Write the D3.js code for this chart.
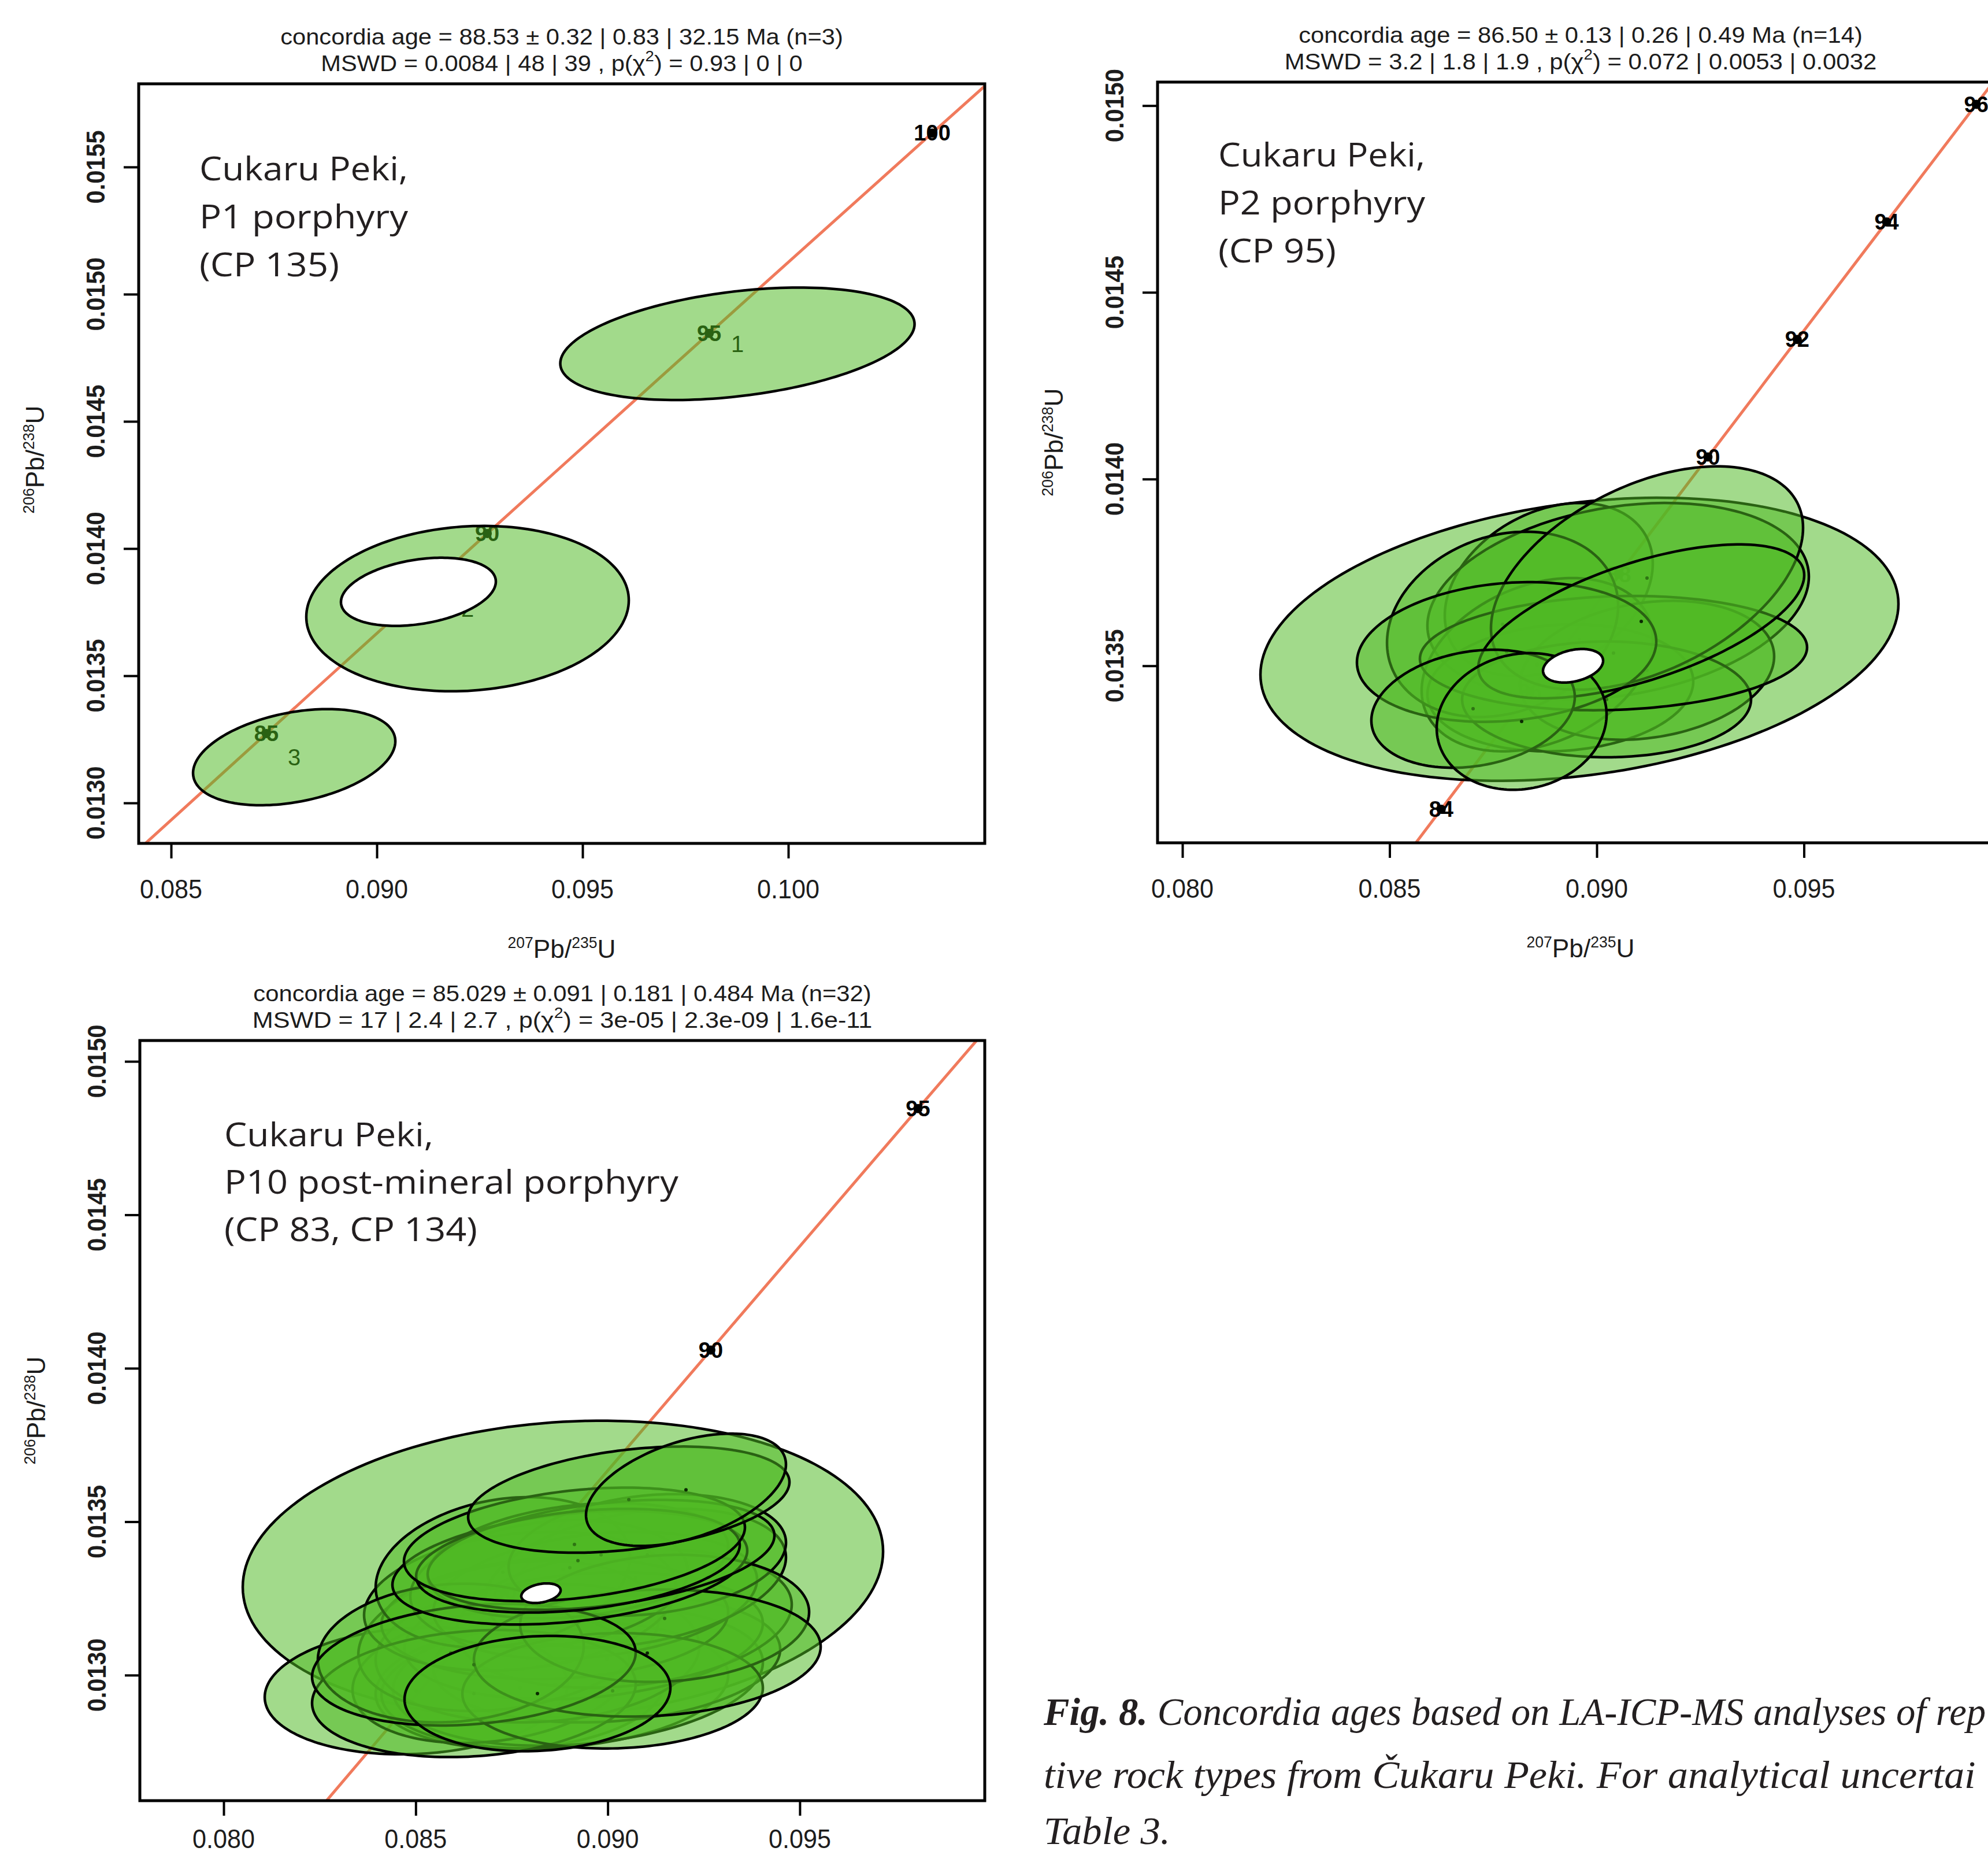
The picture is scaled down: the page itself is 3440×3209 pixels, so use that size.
<!DOCTYPE html>
<html><head><meta charset="utf-8">
<script src="https://cdn.jsdelivr.net/npm/d3@7"></script>
<style>body{margin:0;background:#fff}</style>
</head><body>
<svg id="c" width="3440" height="3209" xmlns="http://www.w3.org/2000/svg"></svg>
<script>
// ---------------- DATA ----------------
// Concordia curve (207Pb/235U, 206Pb/238U) at ages in Ma
const concAges = [78, 80, 82, 84, 85, 86, 88, 90, 92, 94, 95, 96, 100, 102];
const concX = [0.0798458, 0.0819749, 0.0841082, 0.0862456, 0.0873159, 0.0883873, 0.0905332, 0.0926833, 0.0948377, 0.0969964, 0.0980773, 0.0991592, 0.1034978, 0.1056735];
const concY = [0.0121733, 0.0124873, 0.0128015, 0.0131158, 0.0132729, 0.0134301, 0.0137446, 0.0140592, 0.0143738, 0.0146886, 0.0148460, 0.0150034, 0.0156334, 0.0159486];

// Panel 1 (CP 135)
const p1TickAges = [85, 90, 95, 100];
const p1XTicks = [0.085, 0.090, 0.095, 0.100];
const p1YTicks = [0.0130, 0.0135, 0.0140, 0.0145, 0.0150, 0.0155];
const p1X   = [0.098764, 0.092205, 0.087992];
const p1Y   = [0.014805, 0.013764, 0.013180];
const p1SX  = [0.004305, 0.003919, 0.002458];
const p1SY  = [0.000221, 0.000325, 0.000189];
const p1Rho = [0.35, 0.10, 0.33];
const p1Labels = ["1", "2", "3"];
const p1Mean = [0.091011, 0.013830, 0.001882, 0.000134, 0.30];

// Panel 2 (CP 95)
const p2TickAges = [84, 86, 88, 90, 92, 94, 96];
const p2XTicks = [0.080, 0.085, 0.090, 0.095];
const p2YTicks = [0.0135, 0.0140, 0.0145, 0.0150];
const p2X   = [0.089582, 0.088842, 0.090516, 0.089121, 0.088563, 0.091213, 0.087727, 0.090237, 0.090404, 0.091213, 0.087824, 0.091074, 0.087015, 0.088187];
const p2Y   = [0.013571, 0.013704, 0.013673, 0.013441, 0.013503, 0.013488, 0.013611, 0.013410, 0.013534, 0.013735, 0.013537, 0.013619, 0.013385, 0.013351];
const p2SX  = [0.007699, 0.002510, 0.004603, 0.003208, 0.002789, 0.003068, 0.002789, 0.003487, 0.004672, 0.003766, 0.003612, 0.003933, 0.002455, 0.002050];
const p2SY  = [0.000379, 0.000232, 0.000263, 0.000170, 0.000232, 0.000186, 0.000248, 0.000155, 0.000153, 0.000299, 0.000187, 0.000206, 0.000158, 0.000183];
const p2Rho = [0.25, 0.30, 0.25, 0.10, 0.30, 0.20, 0.20, 0.00, 0.10, 0.45, 0.15, 0.60, 0.20, 0.10];
const p2Mean = [0.089428, 0.013500, 0.000725, 0.0000449, 0.30];

// Panel 3 (CP 83, CP 134)
const p3TickAges = [85, 90, 95];
const p3XTicks = [0.080, 0.085, 0.090, 0.095];
const p3YTicks = [0.0130, 0.0135, 0.0140, 0.0145, 0.0150];
const p3X   = [0.088833, 0.085011, 0.087719, 0.088622, 0.089224, 0.086967, 0.089976, 0.088170, 0.089374, 0.087418, 0.090427, 0.088622, 0.087719, 0.089675, 0.090728, 0.088471, 0.087268, 0.089224, 0.091030, 0.086515, 0.090127, 0.085913, 0.091481, 0.091030, 0.086515, 0.088170, 0.089013, 0.089826, 0.089224, 0.089133, 0.090548, 0.092037];
const p3Y   = [0.013345, 0.012949, 0.012959, 0.012968, 0.012996, 0.012996, 0.013053, 0.013072, 0.013128, 0.013128, 0.013185, 0.013185, 0.013241, 0.013260, 0.013316, 0.013298, 0.013335, 0.013373, 0.013392, 0.012940, 0.012949, 0.013072, 0.013185, 0.013072, 0.013034, 0.012940, 0.013350, 0.013392, 0.013373, 0.013426, 0.013572, 0.013604];
const p3SX  = [0.008336, 0.003942, 0.003762, 0.004514, 0.004815, 0.003611, 0.004514, 0.004213, 0.004664, 0.003912, 0.004364, 0.004514, 0.004063, 0.004213, 0.003912, 0.003611, 0.003310, 0.003912, 0.003611, 0.004213, 0.003912, 0.003461, 0.003762, 0.004514, 0.004213, 0.003461, 0.004619, 0.004514, 0.004213, 0.004439, 0.004183, 0.002603];
const p3SY  = [0.000484, 0.000207, 0.000198, 0.000207, 0.000226, 0.000217, 0.000207, 0.000226, 0.000207, 0.000245, 0.000226, 0.000198, 0.000226, 0.000207, 0.000226, 0.000207, 0.000245, 0.000188, 0.000198, 0.000207, 0.000188, 0.000226, 0.000207, 0.000207, 0.000198, 0.000188, 0.000185, 0.000179, 0.000169, 0.000185, 0.000173, 0.000183];
const p3Rho = [0.12, 0.10, 0.10, 0.15, 0.20, 0.20, 0.15, 0.10, 0.20, 0.25, 0.20, 0.10, 0.20, 0.25, 0.30, 0.20, 0.20, 0.25, 0.20, 0.15, 0.05, 0.10, 0.10, 0.10, 0.20, 0.10, 0.30, 0.35, 0.30, 0.30, 0.33, 0.45];
const p3Mean = [0.088261, 0.013267, 0.000512, 0.000032, 0.30];

// Texts
const p1Title = ["concordia age = 88.53 \u00b1 0.32 | 0.83 | 32.15 Ma (n=3)", "MSWD = 0.0084 | 48 | 39 , p(\u03c7", ") = 0.93 | 0 | 0"];
const p2Title = ["concordia age = 86.50 \u00b1 0.13 | 0.26 | 0.49 Ma (n=14)", "MSWD = 3.2 | 1.8 | 1.9 , p(\u03c7", ") = 0.072 | 0.0053 | 0.0032"];
const p3Title = ["concordia age = 85.029 \u00b1 0.091 | 0.181 | 0.484 Ma (n=32)", "MSWD = 17 | 2.4 | 2.7 , p(\u03c7", ") = 3e-05 | 2.3e-09 | 1.6e-11"];
const p1Note = ["Cukaru Peki,", "P1 porphyry", "(CP 135)"];
const p2Note = ["Cukaru Peki,", "P2 porphyry", "(CP 95)"];
const p3Note = ["Cukaru Peki,", "P10 post-mineral porphyry", "(CP 83, CP 134)"];
const caption = ["Fig. 8.", " Concordia ages based on LA-ICP-MS analyses of rep", "tive rock types from \u010cukaru Peki. For analytical uncertai", "Table 3."];

// ---------------- LAYOUT / STYLE ----------------
const FILL = "rgb(80,185,35)", FILL_OP = 0.53, LINE_RED = "#f07a5c", TXT = "#1c1c1c";
const panels = [
  {id: "p1", box: {l: 240, r: 1704, t: 145, b: 1459}, xDom: [0.084213, 0.104775], yDom: [0.012841, 0.015827],
   xT: p1XTicks, yT: p1YTicks, ages: p1TickAges, X: p1X, Y: p1Y, SX: p1SX, SY: p1SY, R: p1Rho, labels: p1Labels, mean: p1Mean,
   title: p1Title, titleW: [974, 834], note: p1Note, noteX: 345, noteY: [312, 395, 478], noteW: [361, 361, 242], xlab: true, ylabY: 795},
  {id: "p2", box: {l: 2003, r: 3467, t: 142, b: 1458}, xDom: [0.079400, 0.099819], yDom: [0.013026, 0.015063],
   xT: p2XTicks, yT: p2YTicks, ages: p2TickAges, X: p2X, Y: p2Y, SX: p2SX, SY: p2SY, R: p2Rho, labels: null, mean: p2Mean,
   title: p2Title, titleW: [976, 1025], note: p2Note, noteX: 2108, noteY: [288, 371, 454], noteW: [358, 358, 204], xlab: true, ylabY: 765},
  {id: "p3", box: {l: 242, r: 1704, t: 1800, b: 3115}, xDom: [0.077818, 0.099816], yDom: [0.012591, 0.015068],
   xT: p3XTicks, yT: p3YTicks, ages: p3TickAges, X: p3X, Y: p3Y, SX: p3SX, SY: p3SY, R: p3Rho, labels: null, mean: p3Mean,
   title: p3Title, titleW: [1070, 1073], note: p3Note, noteX: 388, noteY: [1983, 2065, 2147], noteW: [362, 786, 438], xlab: false, ylabY: 2440}
];

const svg = d3.select("#c");
svg.append("rect").attr("width", 3440).attr("height", 3209).attr("fill", "#fff");
const defs = svg.append("defs");

function fitted(parent, x, y, w, rot, build) {
  const g = parent.append("g");
  const t = g.append("text").attr("x", 0).attr("y", 0);
  build(t);
  const len = t.node().getComputedTextLength();
  const s = w ? w / len : 1;
  g.attr("transform", `translate(${x},${y}) rotate(${rot}) scale(${s},1)`);
  return g;
}

function ellipsePts(cx, cy, ex, ey, rho) {
  const r2 = Math.sqrt(1 - rho * rho);
  return d3.range(0, 360, 2).map(d => {
    const t = d * Math.PI / 180;
    return [cx + ex * Math.cos(t), cy + ey * (rho * Math.cos(t) + r2 * Math.sin(t))];
  });
}

panels.forEach(p => {
  const b = p.box;
  const x = d3.scaleLinear().domain(p.xDom).range([b.l, b.r]);
  const y = d3.scaleLinear().domain(p.yDom).range([b.b, b.t]);
  const cx = (b.l + b.r) / 2;
  defs.append("clipPath").attr("id", "clip-" + p.id).append("rect")
    .attr("x", b.l).attr("y", b.t).attr("width", b.r - b.l).attr("height", b.b - b.t);
  const g = svg.append("g");
  const plot = g.append("g").attr("clip-path", `url(#clip-${p.id})`);

  // concordia line
  const cpts = concAges.map((a, i) => [concX[i], concY[i]]);
  plot.append("path").datum(cpts)
    .attr("d", d3.line().x(d => x(d[0])).y(d => y(d[1])))
    .attr("fill", "none").attr("stroke", LINE_RED).attr("stroke-width", 5);
  // concordia age ticks
  p.ages.forEach(a => {
    const i = concAges.indexOf(a);
    const px = x(concX[i]), py = y(concY[i]);
    plot.append("circle").attr("cx", px).attr("cy", py).attr("r", 8).attr("fill", "#000");
    plot.append("text").attr("x", px).attr("y", py + 13).attr("text-anchor", "middle")
      .attr("font-family", "Liberation Sans Narrow, Liberation Sans, Arial").attr("font-weight", "bold")
      .attr("font-size", 38).attr("fill", "#000").text(a);
  });
  // aliquot numbers (drawn underneath the ellipse fills)
  if (p.labels) {
    p.labels.forEach((lab, i) => {
      plot.append("text").attr("x", x(p.X[i])).attr("y", y(p.Y[i]) + 14).attr("text-anchor", "middle")
        .attr("font-family", "Liberation Sans Narrow, Liberation Sans, Arial")
        .attr("font-size", 40).attr("fill", "#000").text(lab);
    });
  }
  const line = d3.line().x(d => x(d[0])).y(d => y(d[1])).curve(d3.curveLinearClosed);
  p.X.forEach((_, i) => {
    plot.append("path").datum(ellipsePts(p.X[i], p.Y[i], p.SX[i], p.SY[i], p.R[i]))
      .attr("d", line).attr("fill", FILL).attr("fill-opacity", FILL_OP)
      .attr("stroke", "#000").attr("stroke-width", 4.5);
    if (!p.labels) {
      plot.append("circle").attr("cx", x(p.X[i])).attr("cy", y(p.Y[i])).attr("r", 3).attr("fill", "#0a2a00");
    }
  });
  // concordia age ellipse
  const m = p.mean;
  plot.append("path").datum(ellipsePts(m[0], m[1], m[2], m[3], m[4]))
    .attr("d", line).attr("fill", "#fff").attr("stroke", "#000").attr("stroke-width", 4.5);

  // box
  g.append("rect").attr("x", b.l).attr("y", b.t).attr("width", b.r - b.l).attr("height", b.b - b.t)
    .attr("fill", "none").attr("stroke", "#000").attr("stroke-width", 5);

  // axes ticks
  const ax = g.append("g").attr("transform", `translate(0,${b.b})`)
    .call(d3.axisBottom(x).tickValues(p.xT).tickSize(26).tickFormat(""));
  const ay = g.append("g").attr("transform", `translate(${b.l},0)`)
    .call(d3.axisLeft(y).tickValues(p.yT).tickSize(26).tickFormat(""));
  [ax, ay].forEach(a => { a.select(".domain").remove(); a.selectAll("line").attr("stroke", "#000").attr("stroke-width", 4); });

  // tick labels
  const xLabY = Math.min(b.b + 95, 3197);
  p.xT.forEach(v => {
    fitted(g, x(v), xLabY, 108, 0, t => t.attr("text-anchor", "middle")
      .attr("font-family", "Liberation Sans, Arial").attr("font-size", 46).attr("fill", TXT).text(d3.format(".3f")(v)));
  });
  p.yT.forEach(v => {
    fitted(g, b.l - 59, y(v), 127, -90, t => t.attr("text-anchor", "middle")
      .attr("font-family", "Liberation Sans, Arial").attr("font-weight", "bold").attr("font-size", 44).attr("fill", TXT)
      .text(d3.format(".4f")(v)));
  });

  // axis titles
  const isoLabel = (t, a, b2) => {
    t.attr("text-anchor", "middle").attr("font-family", "Liberation Sans, Arial").attr("fill", TXT);
    t.append("tspan").attr("font-size", 27).attr("dy", -17).text(a);
    t.append("tspan").attr("font-size", 45).attr("dy", 17).text("Pb/");
    t.append("tspan").attr("font-size", 27).attr("dy", -17).text(b2);
    t.append("tspan").attr("font-size", 45).attr("dy", 17).text("U");
  };
  if (p.xlab) fitted(g, cx, b.b + 198, 187, 0, t => isoLabel(t, "207", "235"));
  fitted(g, b.l - 164, p.ylabY, 187, -90, t => isoLabel(t, "206", "238"));

  // titles
  fitted(g, cx, b.t - 68, p.titleW[0], 0, t => t.attr("text-anchor", "middle")
    .attr("font-family", "Liberation Sans, Arial").attr("font-size", 38).attr("fill", TXT).text(p.title[0]));
  fitted(g, cx, b.t - 22, p.titleW[1], 0, t => {
    t.attr("text-anchor", "middle").attr("font-family", "Liberation Sans, Arial").attr("font-size", 38).attr("fill", TXT);
    t.append("tspan").text(p.title[1]);
    t.append("tspan").attr("font-size", 25).attr("dy", -17).text("2");
    t.append("tspan").attr("dy", 17).text(p.title[2]);
  });

  // annotation
  p.note.forEach((s, i) => {
    fitted(g, p.noteX, p.noteY[i], p.noteW[i], 0, t => t.attr("font-family", "Open Sans, Noto Sans, sans-serif")
      .attr("font-size", 56).attr("fill", "#231f20").text(s));
  });
});

// caption (the source page crops it at the right edge)
const capX = 1806, capY = [2984, 3093, 3190];
function capLine(yy, build, prefixChars, prefixW) {
  const g = svg.append("g");
  const t = g.append("text").attr("font-family", "Liberation Serif, DejaVu Serif, serif")
    .attr("font-style", "italic").attr("font-size", 68).attr("fill", "#231f20");
  build(t);
  const w = t.node().getSubStringLength(0, prefixChars);
  g.attr("transform", `translate(${capX},${yy}) scale(${prefixW / w},1)`);
}
capLine(capY[0], t => {
  t.append("tspan").attr("font-weight", "bold").text(caption[0]);
  t.append("tspan").text(caption[1]);
}, (caption[0] + caption[1]).indexOf("rep"), 1544);
capLine(capY[1], t => t.text(caption[2]), caption[2].indexOf("For"), 957);
capLine(capY[2], t => t.text(caption[3]), caption[3].length, 219);
</script>
</body></html>
